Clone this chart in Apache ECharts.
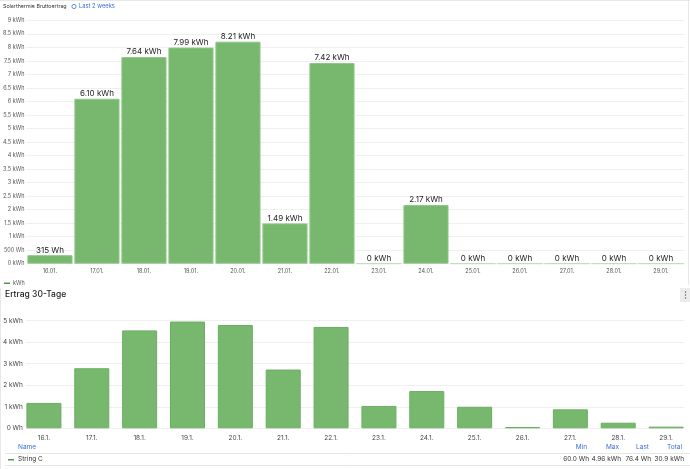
<!DOCTYPE html>
<html>
<head>
<meta charset="utf-8">
<script src="https://cdn.jsdelivr.net/npm/echarts@6/dist/echarts.min.js"></script>
<style>
  html, body { margin: 0; padding: 0; background: #ffffff; }
  #chart { width: 690px; height: 469px; }
</style>
</head>
<body>
<div id="chart"></div>
<script>
// ---- Data ----
const topTitle = 'Solarthermie Bruttoertrag';
const topRange = 'Last 2 weeks';
const topCategories = ['16.01.', '17.01.', '18.01.', '19.01.', '20.01.', '21.01.', '22.01.', '23.01.', '24.01.', '25.01.', '26.01.', '27.01.', '28.01.', '29.01.'];
const topValues = [0.315, 6.10, 7.64, 7.99, 8.21, 1.49, 7.42, 0, 2.17, 0, 0, 0, 0, 0];
const topLegend = 'kWh';

const bottomTitle = 'Ertrag 30-Tage';
const bottomCategories = ['16.1.', '17.1.', '18.1.', '19.1.', '20.1.', '21.1.', '22.1.', '23.1.', '24.1.', '25.1.', '26.1.', '27.1.', '28.1.', '29.1.'];
const bottomValues = [1.18, 2.79, 4.55, 4.96, 4.80, 2.73, 4.71, 1.04, 1.73, 1.00, 0.06, 0.88, 0.26, 0.0764];
const seriesName = 'String C';
const statHeaders = ['Min', 'Max', 'Last', 'Total'];
const statValues = ['60.0 Wh', '4.96 kWh', '76.4 Wh', '30.9 kWh'];

// ---- Helpers ----
const FONT = 'Inter, "Noto Sans", sans-serif';
const GREEN = '#77b86e';
const GREEN_EDGE = '#8ec886';
const GRID_COLOR = '#efefef';

function topAxisFmt(v) {
  if (v === 0) return '0 kWh';
  if (v < 1) return Math.round(v * 1000) + ' Wh';
  return v + ' kWh';
}
function topLabelFmt(v) {
  if (v === 0) return '0 kWh';
  if (v < 1) return Math.round(v * 1000) + ' Wh';
  return v.toFixed(2) + ' kWh';
}
function bottomAxisFmt(v) {
  if (v === 0) return '0 Wh';
  return v + ' kWh';
}

const chart = echarts.init(document.getElementById('chart'), null, { renderer: 'canvas' });

const statX = [589, 621, 651, 684];

const graphics = [
  // panel borders
  { type: 'line', shape: { x1: 0, y1: 0.5, x2: 690, y2: 0.5 }, style: { stroke: '#e8e8e8', lineWidth: 1 } },
  { type: 'line', shape: { x1: 688.5, y1: 0, x2: 688.5, y2: 285 }, style: { stroke: '#e8e8e8', lineWidth: 1 } },
  { type: 'line', shape: { x1: 0.5, y1: 288, x2: 0.5, y2: 469 }, style: { stroke: '#e8e8e8', lineWidth: 1 } },
  // top title
  { type: 'text', left: 3, top: 3.8, style: { text: topTitle, font: '5.3px ' + FONT, fill: '#333' } },
  { type: 'circle', shape: { cx: 74, cy: 6.5, r: 2.1 }, style: { fill: 'none', stroke: '#3b6fd8', lineWidth: 0.8 } },
  { type: 'text', left: 79, top: 3.5, style: { text: topRange, font: '5.8px ' + FONT, fill: '#3b6fd8' } },
  // top legend
  { type: 'rect', shape: { x: 4, y: 282.5, width: 6, height: 1.5 }, style: { fill: '#4f9a45' } },
  { type: 'text', left: 13, top: 280, style: { text: topLegend, font: '5.5px ' + FONT, fill: '#555' } },
  // bottom title
  { type: 'text', left: 5, top: 290, style: { text: bottomTitle, font: '500 8.5px ' + FONT, fill: '#222' } },
  // menu icon
  { type: 'rect', shape: { x: 680, y: 288, width: 10, height: 14 }, style: { fill: '#ececec' } },
  { type: 'circle', shape: { cx: 685.5, cy: 292, r: 0.7 }, style: { fill: '#555' } },
  { type: 'circle', shape: { cx: 685.5, cy: 295, r: 0.7 }, style: { fill: '#555' } },
  { type: 'circle', shape: { cx: 685.5, cy: 298, r: 0.7 }, style: { fill: '#555' } },
  // table
  { type: 'text', left: 18, top: 444, style: { text: 'Name', font: '6.5px ' + FONT, fill: '#3b6fd8' } },
  { type: 'line', shape: { x1: 5, y1: 453.5, x2: 690, y2: 453.5 }, style: { stroke: '#e6e6e6', lineWidth: 1 } },
  { type: 'line', shape: { x1: 5, y1: 465.5, x2: 690, y2: 465.5 }, style: { stroke: '#e6e6e6', lineWidth: 1 } },
  { type: 'rect', shape: { x: 8, y: 459, width: 6, height: 1.5 }, style: { fill: '#4f9a45' } },
  { type: 'text', left: 18, top: 456, style: { text: seriesName, font: '6.5px ' + FONT, fill: '#333' } }
];
statHeaders.forEach(function (h, i) {
  graphics.push({ type: 'text', x: statX[i] - 2, y: 444, style: { text: h, font: '6.5px ' + FONT, fill: '#3b6fd8', textAlign: 'right' } });
  graphics.push({ type: 'text', x: statX[i], y: 456, style: { text: statValues[i], font: '6.5px ' + FONT, fill: '#333', textAlign: 'right' } });
});

const option = {
  animation: false,
  backgroundColor: '#ffffff',
  textStyle: { fontFamily: FONT },
  graphic: graphics,
  grid: [
    { left: 22.3, right: 5.5, top: 20.3, bottom: 205.3 },
    { left: 24, right: 6, top: 320.7, bottom: 40.7 },
    { left: 20, right: 0, top: 320.7, bottom: 40.7 }
  ],
  xAxis: [
    {
      type: 'category', gridIndex: 0, data: topCategories,
      axisLine: { show: false }, axisTick: { show: false },
      axisLabel: { fontSize: 5.5, color: '#555', margin: 5 }
    },
    {
      type: 'category', gridIndex: 1, data: bottomCategories, show: false
    },
    {
      type: 'category', gridIndex: 2, data: bottomCategories,
      axisLine: { show: false }, axisTick: { show: false },
      axisLabel: { fontSize: 6.5, color: '#444', margin: 6 }
    }
  ],
  yAxis: [
    {
      type: 'value', gridIndex: 0, min: 0, max: 9, interval: 0.5,
      axisLine: { show: false }, axisTick: { show: false },
      axisLabel: { fontSize: 5.5, color: '#555', margin: 2, formatter: topAxisFmt },
      splitLine: { lineStyle: { color: GRID_COLOR, width: 1 } }
    },
    {
      type: 'value', gridIndex: 1, min: 0, max: 5, interval: 1,
      axisLine: { show: false }, axisTick: { show: false },
      axisLabel: { fontSize: 6.5, color: '#444', margin: 3, formatter: bottomAxisFmt },
      splitLine: { lineStyle: { color: GRID_COLOR, width: 1 } }
    },
    {
      type: 'value', gridIndex: 2, min: 0, max: 5, interval: 1, show: false,
      splitLine: { show: false }
    }
  ],
  series: [
    {
      type: 'bar', xAxisIndex: 0, yAxisIndex: 0,
      data: topValues.map(function (v) {
        return v === 0
          ? { value: v, itemStyle: { borderColor: '#bfe0ba', borderWidth: 1.2 } }
          : v;
      }),
      barCategoryGap: '4%',
      itemStyle: { color: GREEN, borderColor: GREEN_EDGE, borderWidth: 1 },
      label: {
        show: true, position: 'top', distance: 1,
        fontSize: 8, color: '#222',
        formatter: function (p) { return topLabelFmt(p.value); }
      }
    },
    {
      type: 'bar', xAxisIndex: 2, yAxisIndex: 2,
      data: bottomValues,
      barWidth: 35,
      itemStyle: { color: GREEN, borderColor: '#6aae60', borderWidth: 1 }
    }
  ]
};

chart.setOption(option);
</script>
</body>
</html>
